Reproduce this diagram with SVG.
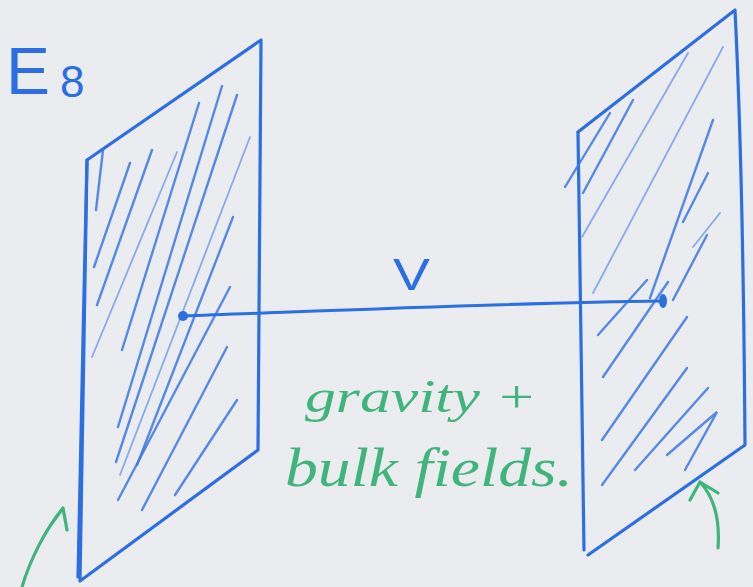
<svg xmlns="http://www.w3.org/2000/svg" width="753" height="587" viewBox="0 0 753 587">
<defs>
<style>
.edge{fill:none;stroke:#2b6fe3;stroke-width:3.2;stroke-linecap:round;stroke-linejoin:round}
.hatch{fill:none;stroke:#3a78e6;stroke-width:2.4;stroke-linecap:round;opacity:.85}
.hl{fill:none;stroke:#5b8fee;stroke-width:1.8;stroke-linecap:round;opacity:.7}
.conn{fill:none;stroke:#2b6fe3;stroke-width:3;stroke-linecap:round}
.garrow{fill:none;stroke:#3fb57c;stroke-width:3.2;stroke-linecap:round;stroke-linejoin:round}
.gtext{font-family:"Liberation Serif",serif;font-style:italic;fill:#3fb57c}
.btext{font-family:"Liberation Sans",sans-serif;fill:#2b6fe3}
</style>
</defs>
<rect width="753" height="587" fill="#eaecef"/>

<g id="label-E8">
<text class="btext" x="6" y="94" font-size="66" textLength="44" lengthAdjust="spacingAndGlyphs">E</text>
<text class="btext" x="60" y="97" font-size="44">8</text>
</g>

<g id="left-brane">
<path class="edge" d="M87 160 L261 40 L258 450 L80 581 Z"/>
<path class="edge" d="M87 160 C84 300 80 450 78 577"/>
<g>
<path class="hatch" d="M96 210 L103 150"/>
<path class="hatch" d="M94 267 L130 163"/>
<path class="hatch" d="M97 305 L152 150"/>
<path class="hl" d="M92 357 L177 152"/>
<path class="hatch" d="M122 350 L199 103"/>
<path class="hatch" d="M118 427 L222 86"/>
<path class="hatch" d="M116 462 L237 95"/>
<path class="hl" d="M120 475 L250 137"/>
<path class="hatch" d="M137 465 L233 217"/>
<path class="hatch" d="M118 500 L230 287"/>
<path class="hatch" d="M142 510 L227 347"/>
<path class="hatch" d="M175 495 L237 400"/>
</g>
</g>

<g id="right-brane">
<path class="edge" d="M578 132 L735 10 C742 150 744 300 745 445 L588 555"/>
<path class="edge" d="M578 132 C580 300 582 430 584 550"/>
<g>
<path class="hatch" d="M565 187 L610 113"/>
<path class="hatch" d="M583 193 L633 100"/>
<path class="hl" d="M582 237 L688 53"/>
<path class="hl" d="M593 293 L723 47"/>
<path class="hatch" d="M650 298 L713 120"/>
<path class="hatch" d="M683 222 L708 173"/>
<path class="hl" d="M693 247 L720 213"/>
<path class="hatch" d="M673 300 L707 235"/>
<path class="hatch" d="M598 335 L647 280"/>
<path class="hatch" d="M603 377 L668 282"/>
<path class="hatch" d="M602 440 L687 317"/>
<path class="hatch" d="M602 485 L687 368"/>
<path class="hatch" d="M635 470 L708 388"/>
<path class="hatch" d="M667 455 L717 412 L685 470"/>
</g>
</g>

<g id="connectors">
<path class="conn" d="M183 316 C300 312 500 303 663 301"/>
<circle cx="183" cy="316" r="5" fill="#2b6fe3"/>
<ellipse cx="663" cy="301" rx="4" ry="7" fill="#2b6fe3"/>
<path class="garrow" d="M22 587 C30 560 45 530 63 508 M50 526 L63 508 L67 530"/>
<path class="garrow" d="M718 548 C720 520 715 498 700 482 M690 500 L700 482 L718 493"/>
</g>

<g id="label-V">
<text class="btext" x="393" y="290" font-size="44" textLength="37" lengthAdjust="spacingAndGlyphs">V</text>
</g>

<g id="label-bulk">
<text class="gtext" x="305" y="412" font-size="46" textLength="232" lengthAdjust="spacingAndGlyphs">gravity +</text>
<text class="gtext" x="285" y="486" font-size="54" textLength="288" lengthAdjust="spacingAndGlyphs">bulk fields.</text>
</g>
</svg>
